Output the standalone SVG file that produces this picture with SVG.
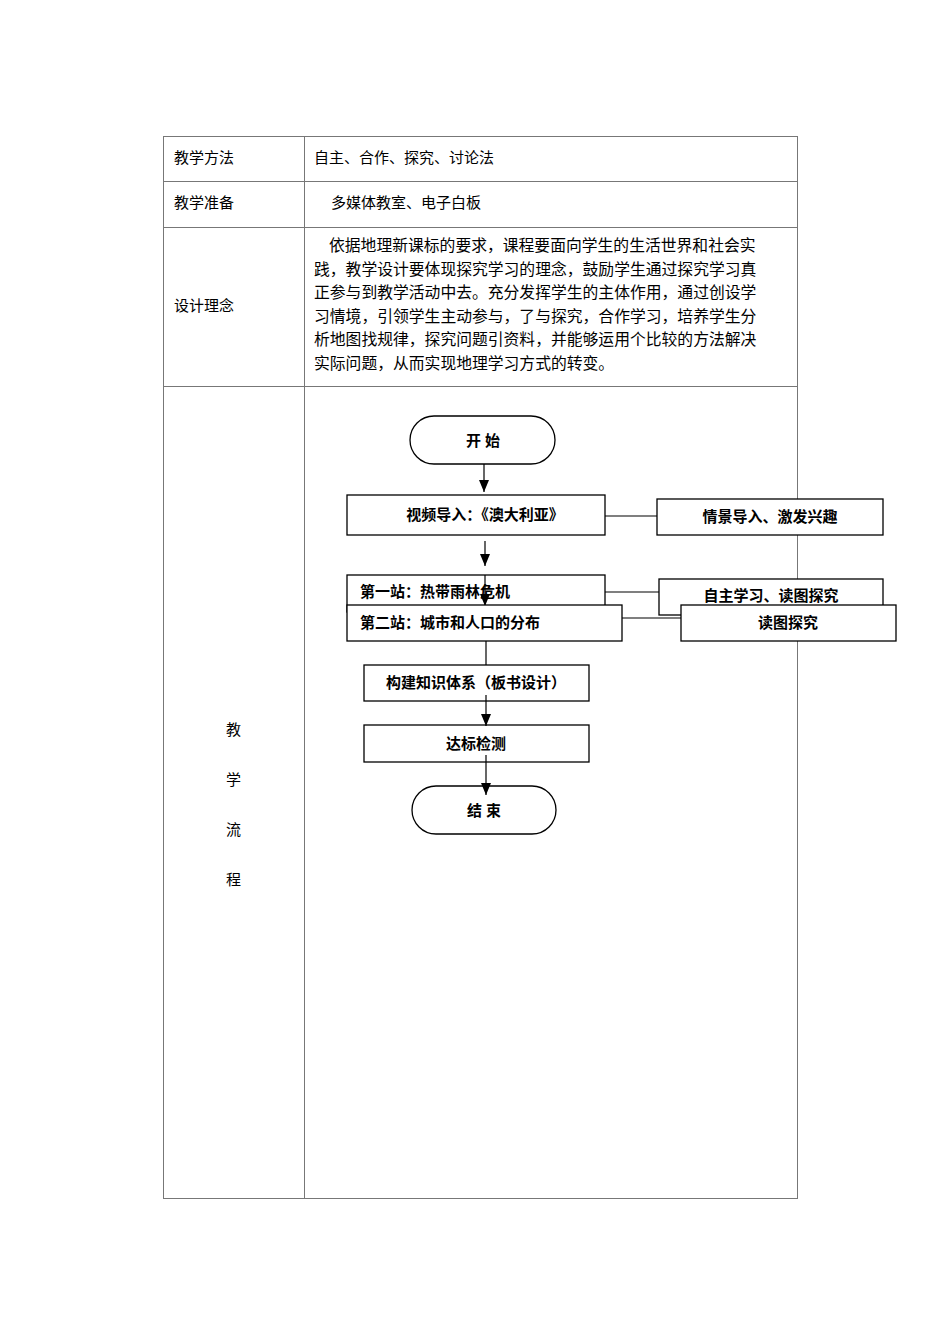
<svg xmlns="http://www.w3.org/2000/svg" width="950" height="1344" viewBox="0 0 950 1344">
<style>
.t{font-family:"Liberation Serif","Noto Sans CJK SC",serif;font-size:15px;fill:#000}
.p{font-family:"Liberation Serif","Noto Sans CJK SC",serif;font-size:15.8px;fill:#000}
.b{font-family:"Liberation Sans","Noto Sans CJK SC",sans-serif;font-size:15px;font-weight:bold;fill:#000}
.g{stroke:#777;stroke-width:1;fill:none}
.n{stroke:#000;stroke-width:1.3;fill:#fff}
.c{stroke:#000;stroke-width:1.2;fill:none}
</style>
<defs><marker id="a" markerWidth="12" markerHeight="10" refX="12" refY="5" orient="auto" markerUnits="userSpaceOnUse"><path d="M0,0 L12,5 L0,10 Z" fill="#000"/></marker></defs>
<rect width="950" height="1344" fill="#fff"/>
<g id="table">
<rect class="g" x="163.5" y="136.5" width="634" height="1062"/>
<line class="g" x1="304.5" y1="136" x2="304.5" y2="1198"/>
<line class="g" x1="163" y1="181.5" x2="797" y2="181.5"/>
<line class="g" x1="163" y1="227.5" x2="797" y2="227.5"/>
<line class="g" x1="163" y1="386.5" x2="797" y2="386.5"/>
<text class="t" x="174" y="163">教学方法</text>
<text class="t" x="314" y="163">自主、合作、探究、讨论法</text>
<text class="t" x="174" y="208">教学准备</text>
<text class="t" x="331" y="208">多媒体教室、电子白板</text>
<text class="t" x="174" y="311">设计理念</text>
<text class="p" x="314" y="251"><tspan x="329">依据地理新课标的要求，课程要面向学生的生活世界和社会实</tspan><tspan x="314" dy="23.5">践，教学设计要体现探究学习的理念，鼓励学生通过探究学习真</tspan><tspan x="314" dy="23.5">正参与到教学活动中去。充分发挥学生的主体作用，通过创设学</tspan><tspan x="314" dy="23.5">习情境，引领学生主动参与，了与探究，合作学习，培养学生分</tspan><tspan x="314" dy="23.5">析地图找规律，探究问题引资料，并能够运用个比较的方法解决</tspan><tspan x="314" dy="23.5">实际问题，从而实现地理学习方式的转变。</tspan></text>
<text class="t" x="226" y="735">教</text>
<text class="t" x="226" y="785">学</text>
<text class="t" x="226" y="835">流</text>
<text class="t" x="226" y="885">程</text>
</g>
<g id="connectors">
<line class="c" x1="484" y1="464" x2="484" y2="492" marker-end="url(#a)"/>
<line class="c" x1="485" y1="541" x2="485" y2="566" marker-end="url(#a)"/>
<line class="c" x1="605" y1="516" x2="657" y2="516"/>
<line class="c" x1="605" y1="592" x2="659" y2="592"/>
<line class="c" x1="622" y1="618" x2="681" y2="618"/>
<line class="c" x1="486" y1="641" x2="486" y2="665"/>
</g>
<g id="start"><rect class="n" x="410" y="416" width="145" height="48" rx="24"/><text class="b" x="483" y="446" text-anchor="middle">开 始</text></g>
<g id="n1"><rect class="n" x="347" y="495" width="258" height="40"/><text class="b" x="485" y="520" text-anchor="middle">视频导入：《澳大利亚》</text></g>
<g id="s1"><rect class="n" x="657" y="499" width="226" height="36"/><text class="b" x="770" y="522" text-anchor="middle">情景导入、激发兴趣</text></g>
<g id="n2"><rect class="n" x="347" y="575" width="258" height="37"/><text class="b" x="360" y="597">第一站：热带雨林危机</text></g>
<g id="s2"><rect class="n" x="659" y="579" width="224" height="36"/><text class="b" x="771" y="601" text-anchor="middle">自主学习、读图探究</text></g>
<line class="c" x1="485" y1="575" x2="485" y2="606" marker-end="url(#a)"/>
<g id="n3"><rect class="n" x="347" y="605" width="275" height="36"/><text class="b" x="360" y="628">第二站：城市和人口的分布</text></g>
<g id="s3"><rect class="n" x="681" y="605" width="215" height="36"/><text class="b" x="788" y="628" text-anchor="middle">读图探究</text></g>
<g id="n4"><rect class="n" x="364" y="665" width="225" height="36"/><text class="b" x="476" y="688" text-anchor="middle">构建知识体系（板书设计）</text></g>
<g id="n5"><rect class="n" x="364" y="725" width="225" height="37"/><text class="b" x="476" y="749" text-anchor="middle">达标检测</text></g>
<g id="end"><rect class="n" x="412" y="786" width="144" height="48" rx="24"/><text class="b" x="484" y="816" text-anchor="middle">结 束</text></g>
<g id="connectors2">
<line class="c" x1="486" y1="695" x2="486" y2="726" marker-end="url(#a)"/>
<line class="c" x1="486" y1="755" x2="486" y2="795" marker-end="url(#a)"/>
</g>
</svg>
